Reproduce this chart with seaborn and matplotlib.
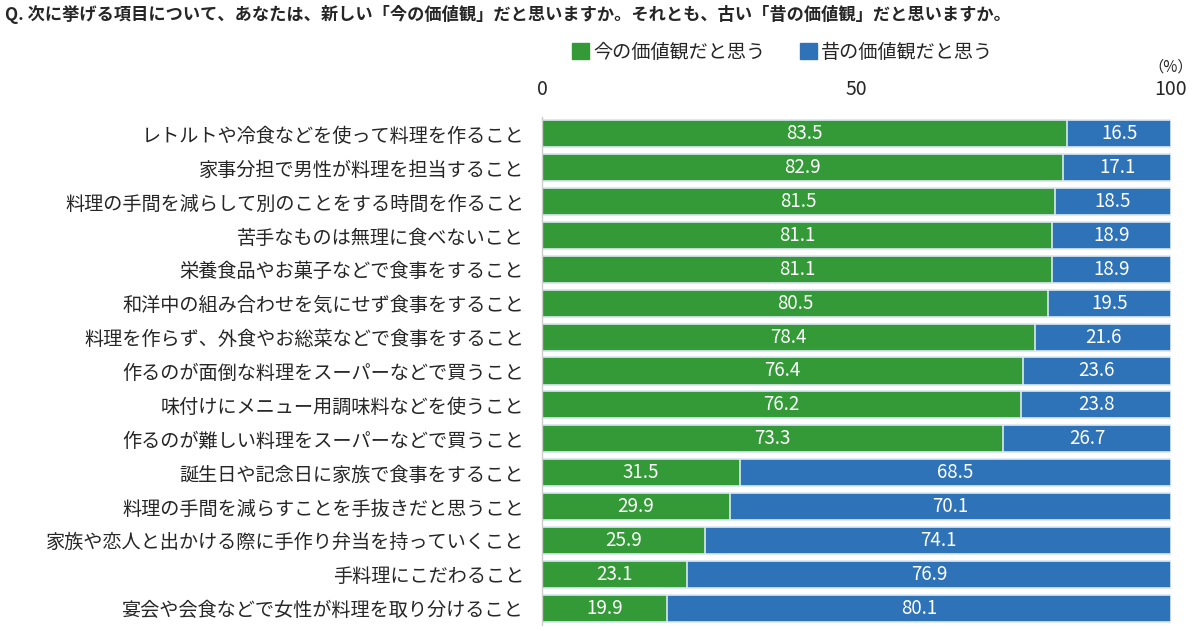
import matplotlib.pyplot as plt
import seaborn as sns
import pandas as pd

# data
items = [
    "レトルトや冷食などを使って料理を作ること",
    "家事分担で男性が料理を担当すること",
    "料理の手間を減らして別のことをする時間を作ること",
    "苦手なものは無理に食べないこと",
    "栄養食品やお菓子などで食事をすること",
    "和洋中の組み合わせを気にせず食事をすること",
    "料理を作らず、外食やお総菜などで食事をすること",
    "作るのが面倒な料理をスーパーなどで買うこと",
    "味付けにメニュー用調味料などを使うこと",
    "作るのが難しい料理をスーパーなどで買うこと",
    "誕生日や記念日に家族で食事をすること",
    "料理の手間を減らすことを手抜きだと思うこと",
    "家族や恋人と出かける際に手作り弁当を持っていくこと",
    "手料理にこだわること",
    "宴会や会食などで女性が料理を取り分けること",
]
now_vals = [83.5, 82.9, 81.5, 81.1, 81.1, 80.5, 78.4, 76.4, 76.2, 73.3, 31.5, 29.9, 25.9, 23.1, 19.9]
old_vals = [16.5, 17.1, 18.5, 18.9, 18.9, 19.5, 21.6, 23.6, 23.8, 26.7, 68.5, 70.1, 74.1, 76.9, 80.1]
series_names = ["今の価値観だと思う", "昔の価値観だと思う"]

green = "#349a37"
blue = "#2e72b8"

df = pd.DataFrame({"item": items, "now": now_vals, "old": old_vals})
df["total"] = df["now"] + df["old"]

sns.set_theme(style="white")
plt.rcParams['font.family'] = ['Noto Sans CJK JP', 'DejaVu Sans']

fig = plt.figure(figsize=(12, 6.31), dpi=100)
ax = fig.add_axes([0.4517, 0.0095, 0.5241, 0.8051])

# stacked: draw the full bar in blue, then the green part over it
sns.barplot(data=df, y="item", x="total", color=blue, saturation=1, orient="h", width=0.8,
            edgecolor="#dce8f2", linewidth=1.2, ax=ax)
sns.barplot(data=df, y="item", x="now", color=green, saturation=1, orient="h", width=0.8,
            edgecolor="#dce8f2", linewidth=1.2, ax=ax)

for i, (n, o) in enumerate(zip(df["now"], df["old"])):
    ax.text(n / 2, i, f"{n:.1f}", ha="center", va="center", color="white", fontsize=13.5)
    ax.text(n + o / 2, i, f"{o:.1f}", ha="center", va="center", color="white", fontsize=13.5)

ax.set_xlim(0, 100)
ax.set_ylim(len(items) - 0.5, -0.5)
ax.xaxis.tick_top()
ax.set_xticks([0, 50, 100])
ax.tick_params(axis="x", length=0, labelsize=14, pad=12)
ax.tick_params(axis="y", length=0, labelsize=13.8, pad=13)
ax.set_xlabel("")
ax.set_ylabel("")
for s in ["top", "right", "bottom"]:
    ax.spines[s].set_visible(False)
ax.spines["left"].set_color("#cccccc")
ax.spines["left"].set_linewidth(1)

fig.text(0.004, 0.977, "Q. 次に挙げる項目について、あなたは、新しい「今の価値観」だと思いますか。それとも、古い「昔の価値観」だと思いますか。",
         fontsize=12.4, fontweight="bold", ha="left", va="center")
fig.text(0.994, 0.893, "（%）", fontsize=11, ha="right", va="center")

handles = [plt.Rectangle((0, 0), 1, 1, color=green), plt.Rectangle((0, 0), 1, 1, color=blue)]
fig.legend(handles, series_names, loc="center", bbox_to_anchor=(0.652, 0.917), ncol=2,
           frameon=False, fontsize=13.8, handlelength=0.9, handleheight=0.9,
           handletextpad=0.2, columnspacing=1.8)

fig.savefig("out.png", dpi=100)
